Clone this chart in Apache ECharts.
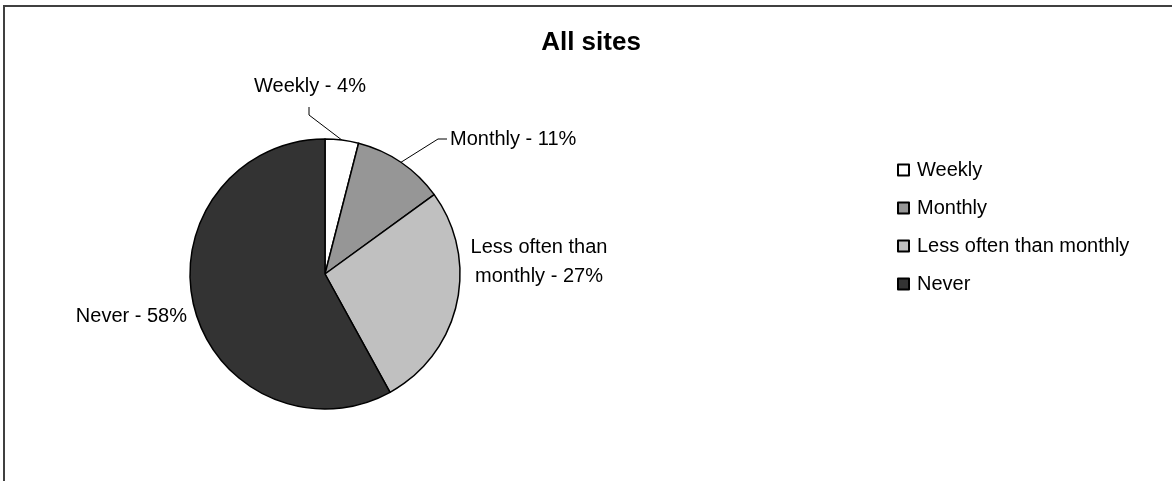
<!DOCTYPE html>
<html>
<head>
<meta charset="utf-8">
<script src="https://cdn.jsdelivr.net/npm/echarts@6/dist/echarts.min.js"></script>
<style>
  html, body { margin: 0; padding: 0; background: #fff; }
  #chart { width: 1172px; height: 481px; }
</style>
</head>
<body>
<div id="chart"></div>
<script>
// chart data
const categories = ['Weekly', 'Monthly', 'Less often than monthly', 'Never']
const values = [4, 11, 27, 58]
const labelNames = ['Weekly', 'Monthly', 'Less often than\nmonthly', 'Never']
const sliceColors = ['#ffffff', '#969696', '#c0c0c0', '#333333']

const chart = echarts.init(document.getElementById('chart'))

// where each slice label sits (Excel style, placed by hand)
function placeLabel (params) {
  const i = params.dataIndex
  const edge = params.labelLinePoints ? params.labelLinePoints[0] : null
  if (i === 0) {
    return {
      x: 310, y: 86, align: 'center', verticalAlign: 'middle',
      labelLinePoints: edge ? [edge, [309, 115], [309, 107]] : undefined
    }
  }
  if (i === 1) {
    return {
      x: 450, y: 139, align: 'left', verticalAlign: 'middle',
      labelLinePoints: edge ? [edge, [438, 139], [447, 139]] : undefined
    }
  }
  if (i === 2) {
    return { x: 539, y: 262, align: 'center', verticalAlign: 'middle' }
  }
  return { x: 187, y: 316, align: 'right', verticalAlign: 'middle' }
}

const option = {
  animation: false,
  backgroundColor: '#ffffff',
  textStyle: { fontFamily: 'Arial, "Liberation Sans", sans-serif' },
  graphic: [{
    type: 'rect',
    shape: { x: 4, y: 6, width: 1200, height: 520 },
    style: { fill: 'none', stroke: '#404040', lineWidth: 2 },
    silent: true
  }],
  title: {
    text: 'All sites',
    left: 591,
    top: 30,
    padding: 0,
    textAlign: 'center',
    textStyle: { fontSize: 26, fontWeight: 'bold', color: '#000', fontFamily: 'Arial, "Liberation Sans", sans-serif' }
  },
  legend: {
    orient: 'vertical',
    left: 897,
    top: 160,
    padding: 0,
    itemWidth: 11,
    itemHeight: 11,
    itemGap: 18,
    icon: 'rect',
    selectedMode: false,
    data: categories,
    textStyle: { fontSize: 20, lineHeight: 20, color: '#000', padding: [0, 0, 0, 3] }
  },
  series: [{
    type: 'pie',
    center: [325, 274],
    radius: 135,
    startAngle: 90,
    clockwise: true,
    silent: true,
    emphasis: { disabled: true },
    itemStyle: { borderColor: '#000', borderWidth: 1.5 },
    label: {
      show: true,
      position: 'outside',
      color: '#000',
      fontSize: 20,
      lineHeight: 29,
      formatter: (p) => labelNames[p.dataIndex] + ' - ' + p.value + '%'
    },
    labelLine: {
      show: true,
      length: 10,
      length2: 10,
      lineStyle: { color: '#000', width: 1 }
    },
    labelLayout: placeLabel,
    data: categories.map((name, i) => ({
      name: name,
      value: values[i],
      itemStyle: { color: sliceColors[i] },
      labelLine: { show: i < 2 }
    }))
  }]
}

chart.setOption(option)
</script>
</body>
</html>
